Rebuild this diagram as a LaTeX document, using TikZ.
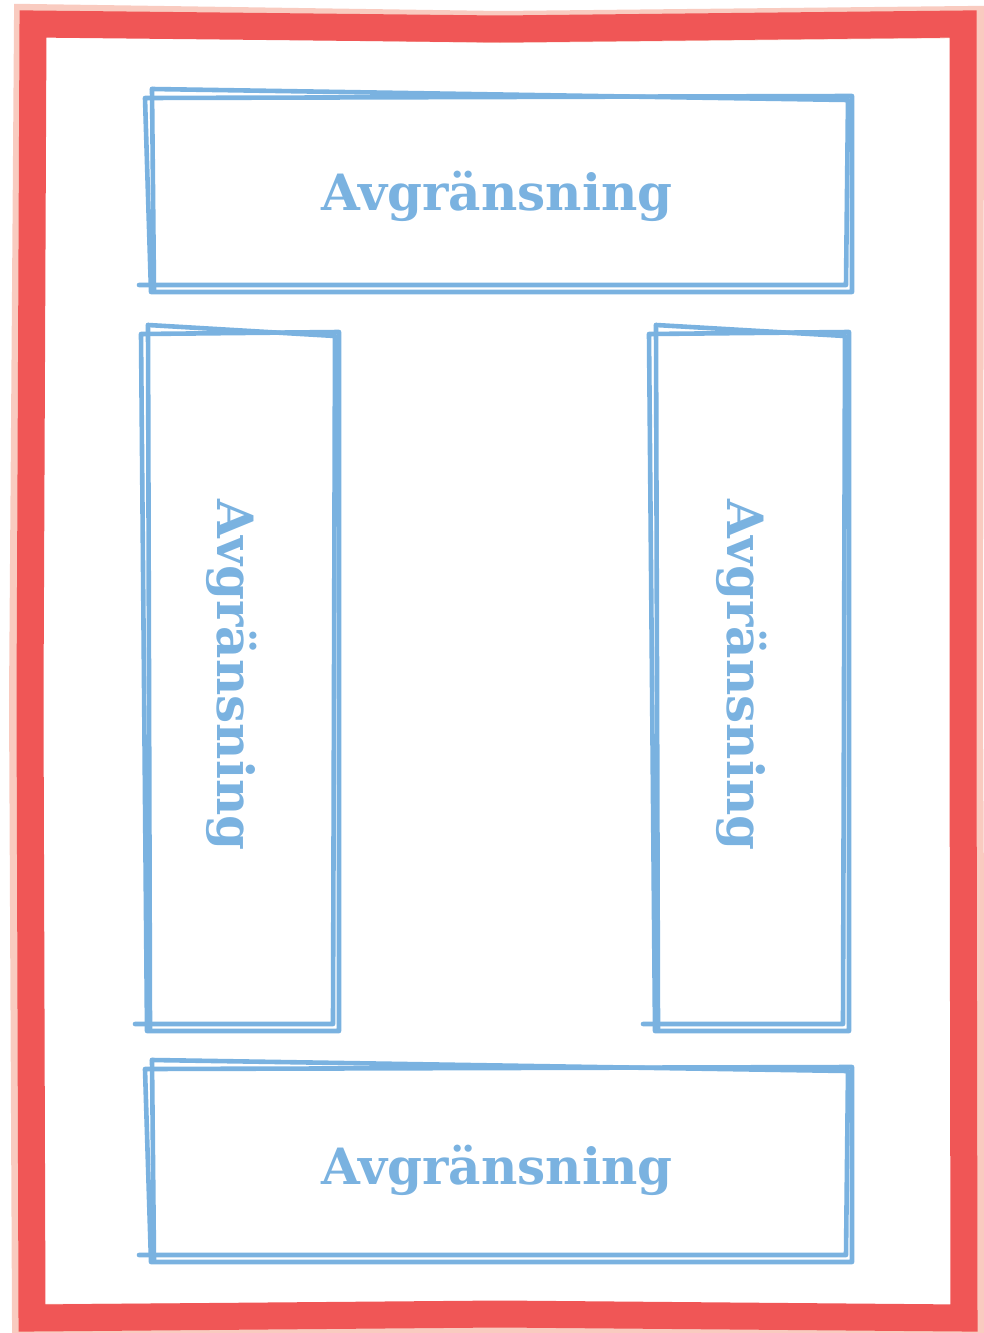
\documentclass[tikz,border=0pt]{standalone}
\usepackage{fontspec}
\newfontfamily\labelfont{DejaVu Serif}
\definecolor{frame}{HTML}{F05656}
\definecolor{halo}{HTML}{F9CBC0}
\definecolor{skblue}{HTML}{7AB2E0}
\tikzset{
  sketch/.style={draw=skblue, line width=4.6pt, line cap=round, line join=round},
  boxlabel/.style={text=skblue, font=\labelfont\bfseries\fontsize{50}{50}\selectfont},
}
% two slightly shifted outlines, as drawn by hand
\newcommand{\sketchbox}[4]{%
  \draw[sketch] (#1,#2+2) -- (#3,#2) -- (#3,#4) -- (#1+6,#4) -- cycle;
  \draw[sketch] (#1+7,#2-7) -- (#3-4,#2+4) -- (#3-6,#4-7) -- (#1-6,#4-7);
  \draw[sketch] (#1+7,#2-7) -- (#1+9,#4-2);
}
\begin{document}
\begin{tikzpicture}[x=1pt, y=-1pt]
  \useasboundingbox (0,0) rectangle (984,1333);
  % red frame
  \draw[halo, line width=32pt, line join=miter]
    (30,20) -- (500,27) -- (968,22) -- (967,700) -- (970,1322) -- (500,1318) -- (28,1320) -- (25,700) -- cycle;
  \draw[frame, line width=27pt, line join=miter]
    (33,24) -- (500,29) -- (963,24) -- (963,700) -- (964,1318) -- (500,1314) -- (32,1318) -- (30,700) -- cycle;
  % labels
  \node[boxlabel] (top) at (497,196) {Avgränsning};
  \node[boxlabel, rotate=-90] (left) at (232,675) {Avgränsning};
  \node[boxlabel, rotate=-90] (right) at (742,675) {Avgränsning};
  \node[boxlabel] (bottom) at (497,1170) {Avgränsning};
  % boxes
  \sketchbox{145}{96}{852}{292}
  \sketchbox{141}{332}{339}{1031}
  \sketchbox{649}{332}{849}{1031}
  \sketchbox{145}{1067}{852}{1262}
\end{tikzpicture}
\end{document}
